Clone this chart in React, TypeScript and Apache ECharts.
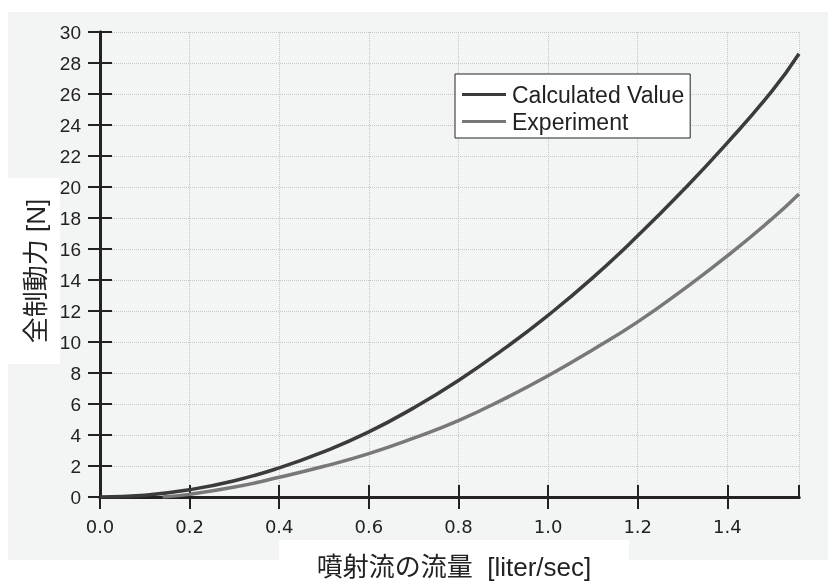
import React, { useEffect, useRef } from "react";
import * as echarts from "echarts";

const xCalc = [0, 0.1, 0.2, 0.3, 0.4, 0.5, 0.6, 0.7, 0.8, 0.9, 1.0, 1.1, 1.2, 1.3, 1.4, 1.5, 1.56];
const yCalc = [0, 0.12, 0.47, 1.05, 1.88, 2.93, 4.2, 5.75, 7.52, 9.52, 11.72, 14.15, 16.85, 19.75, 22.85, 26.2, 28.6];
const xExp = [0.14, 0.2, 0.3, 0.4, 0.5, 0.6, 0.7, 0.8, 0.9, 1.0, 1.1, 1.2, 1.3, 1.4, 1.5, 1.56];
const yExp = [0, 0.17, 0.64, 1.27, 1.98, 2.8, 3.8, 4.93, 6.3, 7.82, 9.5, 11.3, 13.35, 15.55, 17.95, 19.55];
const seriesNames = ["Calculated Value", "Experiment"];
const xTitle = "噴射流の流量  [liter/sec]";
const yTitle = "全制動力 [N]";

export default function App() {
  const ref = useRef<HTMLDivElement>(null);
  useEffect(() => {
    const chart = echarts.init(ref.current!, null, { renderer: "svg" });
    const axisLine = { show: true, lineStyle: { color: "#222", width: 3 } };
    const axisTick = { show: true, inside: false, length: 12, lineStyle: { color: "#222", width: 2 } };
    chart.setOption({
      animation: false,
      graphic: [
        { type: "rect", z: -10, shape: { x: 8, y: 12, width: 820, height: 548 }, style: { fill: "#f3f4f4" }, silent: true },
        { type: "rect", z: -9, shape: { x: 8, y: 178, width: 52, height: 186 }, style: { fill: "#ffffff" }, silent: true },
        { type: "rect", z: -9, shape: { x: 279, y: 540, width: 350, height: 41 }, style: { fill: "#ffffff" }, silent: true },
        {
          type: "text", z: 5, x: 36, y: 271, rotation: Math.PI / 2,
          style: { text: yTitle, font: '26px "Liberation Sans", "Noto Sans CJK JP", sans-serif', fill: "#222", align: "center", verticalAlign: "middle" },
        },
        {
          type: "text", z: 5, x: 454, y: 567,
          style: { text: xTitle, font: '26px "Liberation Sans", "Noto Sans CJK JP", sans-serif', fill: "#222", align: "center", verticalAlign: "middle" },
        },
      ],
      grid: { left: 100, top: 32, right: 29, bottom: 84, containLabel: false },
      legend: {
        orient: "vertical",
        left: 455,
        top: 74,
        data: seriesNames.map((name) => ({ name, icon: "rect" })),
        backgroundColor: "#ffffff",
        borderColor: "#222",
        borderWidth: 1,
        borderRadius: 0,
        padding: [9, 6, 5, 7],
        itemGap: 4,
        itemWidth: 44,
        itemHeight: 3,
        textStyle: { fontFamily: '"Liberation Sans", Arial, sans-serif', fontSize: 23, lineHeight: 23, color: "#222", padding: [0, 0, 0, 1] },
      },
      xAxis: [
        {
          type: "value", position: "bottom", min: 0, max: 1.56, interval: 0.2,
          axisLine, axisTick,
          axisLabel: {
            margin: 20, showMaxLabel: false, color: "#222",
            fontFamily: '"DejaVu Sans", sans-serif', fontSize: 18,
            formatter: (v: number) => v.toFixed(1),
          },
          splitLine: { show: true, lineStyle: { type: "dotted", color: "#c6c6c6", width: 1 } },
        },
        {
          type: "value", position: "top", min: 0, max: 1.56, interval: 0.2,
          axisLine, axisTick, axisLabel: { show: false }, splitLine: { show: false },
        },
      ],
      yAxis: [
        {
          type: "value", position: "left", min: 0, max: 30, interval: 2,
          axisLine, axisTick,
          axisLabel: { margin: 19, color: "#222", fontFamily: '"Liberation Sans", sans-serif', fontSize: 19 },
          splitLine: { show: true, lineStyle: { type: "dotted", color: "#c6c6c6", width: 1 } },
        },
        {
          type: "value", position: "right", min: 0, max: 30, interval: 2,
          axisLine, axisTick, axisLabel: { show: false }, splitLine: { show: false },
        },
      ],
      series: [
        {
          name: seriesNames[0], type: "line", smooth: true, symbol: "none", z: 3,
          data: xCalc.map((x, i) => [x, yCalc[i]]),
          lineStyle: { color: "#3b3b3b", width: 3.5 }, itemStyle: { color: "#3b3b3b" },
        },
        {
          name: seriesNames[1], type: "line", smooth: true, symbol: "none", z: 3,
          data: xExp.map((x, i) => [x, yExp[i]]),
          lineStyle: { color: "#787878", width: 3.5 }, itemStyle: { color: "#787878" },
        },
      ],
    });
    return () => chart.dispose();
  }, []);
  return <div ref={ref} style={{ position: "fixed", left: 0, top: 0, width: 828, height: 581 }} />;
}
